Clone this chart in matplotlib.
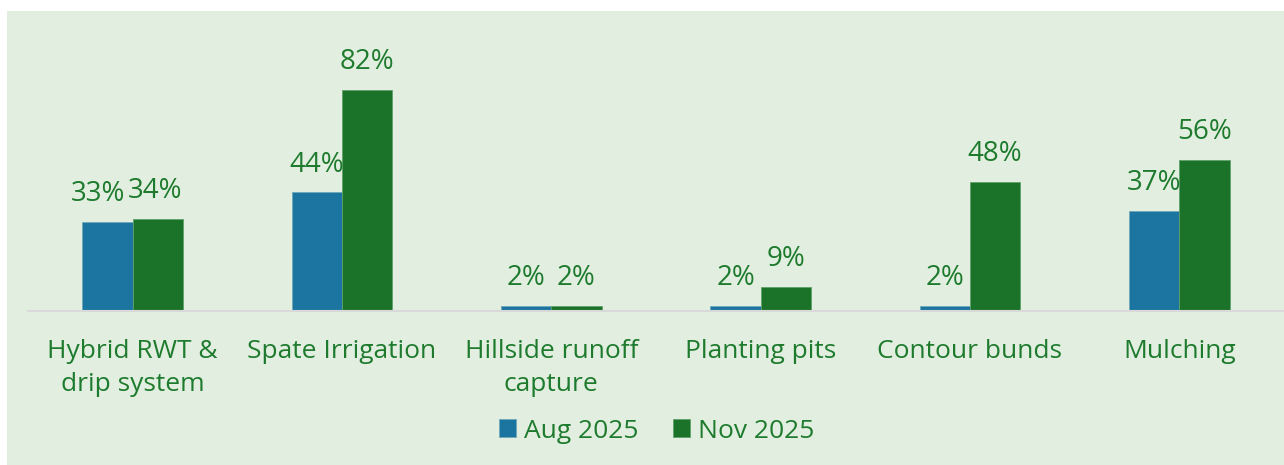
import numpy as np
import matplotlib.pyplot as plt
from matplotlib.patches import Rectangle

categories = ["Hybrid RWT &\ndrip system", "Spate Irrigation", "Hillside runoff\ncapture",
              "Planting pits", "Contour bunds", "Mulching"]
aug_2025 = [33, 44, 2, 2, 2, 37]
nov_2025 = [34, 82, 2, 9, 48, 56]

blue = "#1B75A0"
green = "#1B7329"
text_green = "#1E7B2E"
panel = "#E2EFE0"

plt.rcParams["font.family"] = ["Open Sans", "DejaVu Sans"]

W, H = 1284, 465
fig = plt.figure(figsize=(W / 100, H / 100), dpi=100)
fig.patches.append(Rectangle((7 / W, 0), 1 - 7 / W, 1 - 11 / H, transform=fig.transFigure,
                             facecolor=panel, edgecolor="none", zorder=-5))

ax = fig.add_axes([28 / W, 1 - 311 / H, 1256 / W, 300 / H])
ax.set_facecolor("none")

x = np.arange(len(categories))
w = 0.24
b1 = ax.bar(x - w / 2, aug_2025, w, color=blue, edgecolor="#6FA8B8", linewidth=0.6, label="Aug 2025")
b2 = ax.bar(x + w / 2, nov_2025, w, color=green, edgecolor="#5FA06A", linewidth=0.6, label="Nov 2025")

# first pair of labels is nudged apart so they don't collide
for bars, vals, nudge in ((b1, aug_2025, -7), (b2, nov_2025, -2)):
    for i, (r, v) in enumerate(zip(bars, vals)):
        dx = nudge if i == 0 else 0
        ax.annotate(f"{v}%", (r.get_x() + r.get_width() / 2, r.get_height()),
                    xytext=(dx, 10), textcoords="offset points", ha="center", va="bottom",
                    fontsize=20, color=text_green)

ax.set_xlim(-0.5, 5.5)
ax.set_ylim(0, 111.3)
ax.set_yticks([])
ax.set_xticks(x)
ax.set_xticklabels(categories, fontsize=19, color=text_green, linespacing=1.45)
ax.tick_params(axis="x", length=0, pad=20)
for s in ("top", "right", "left"):
    ax.spines[s].set_visible(False)
ax.spines["bottom"].set_color("#D9D9D9")
ax.spines["bottom"].set_linewidth(1.5)

leg = fig.legend(handles=[b1, b2], loc="center", bbox_to_anchor=(657 / W, 1 - 431 / H),
                 ncol=2, frameon=False, fontsize=19, handlelength=0.65, handleheight=0.65,
                 handletextpad=0.3, columnspacing=1.3)
for t in leg.get_texts():
    t.set_color(text_green)

fig.savefig("out.png", dpi=100, facecolor="white")
